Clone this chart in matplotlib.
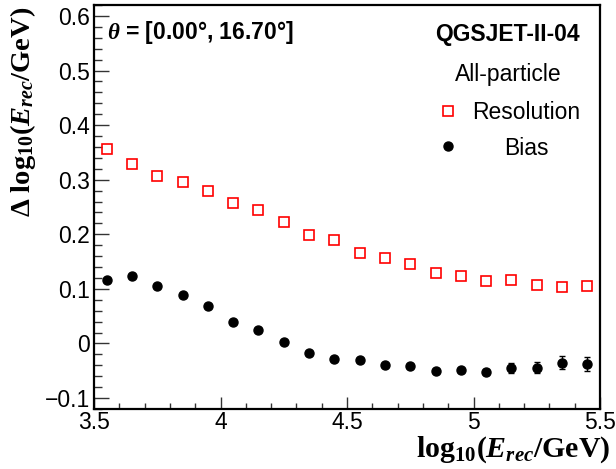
import matplotlib
matplotlib.use("Agg")
import matplotlib.pyplot as plt
from matplotlib.ticker import MultipleLocator
from matplotlib.lines import Line2D

plt.rcParams['font.family'] = ['Liberation Sans', 'DejaVu Sans']
plt.rcParams['mathtext.fontset'] = 'custom'
plt.rcParams['mathtext.rm'] = 'Liberation Serif:bold'
plt.rcParams['mathtext.it'] = 'Liberation Serif:bold:italic'
plt.rcParams['mathtext.bf'] = 'Liberation Serif:bold'

# ---- data ----
log_e = [3.55, 3.65, 3.75, 3.85, 3.95, 4.05, 4.15, 4.25, 4.35, 4.45,
         4.55, 4.65, 4.75, 4.85, 4.95, 5.05, 5.15, 5.25, 5.35, 5.45]
resolution = [0.356, 0.328, 0.306, 0.295, 0.279, 0.258, 0.245, 0.222, 0.199, 0.189,
              0.166, 0.156, 0.145, 0.130, 0.124, 0.115, 0.116, 0.108, 0.104, 0.105]
bias = [0.117, 0.124, 0.106, 0.089, 0.068, 0.040, 0.025, 0.003, -0.018, -0.028,
        -0.031, -0.040, -0.042, -0.050, -0.048, -0.052, -0.045, -0.044, -0.035, -0.038]
bias_err = [0.002, 0.002, 0.002, 0.002, 0.002, 0.002, 0.002, 0.002, 0.002, 0.003,
            0.003, 0.003, 0.003, 0.004, 0.004, 0.005, 0.009, 0.010, 0.012, 0.013]

fig = plt.figure(figsize=(6.16, 4.69), dpi=100)
ax = fig.add_axes([94/616, 1-409/469, 506/616, 404/469])

ax.plot(log_e, resolution, linestyle='none', marker='s', markersize=7,
        markerfacecolor='none', markeredgecolor='#ff0000', markeredgewidth=1.2)
ax.errorbar(log_e, bias, yerr=bias_err, fmt='o', color='black', markersize=6.5,
            elinewidth=1.0, capsize=2, capthick=1.0)

ax.set_xlim(3.5, 5.5)
ax.set_ylim(-0.12, 0.62)
ax.xaxis.set_major_locator(MultipleLocator(0.5))
ax.xaxis.set_minor_locator(MultipleLocator(0.1))
ax.yaxis.set_major_locator(MultipleLocator(0.1))
ax.yaxis.set_minor_locator(MultipleLocator(0.02))
ax.set_xticks([3.5, 4, 4.5, 5, 5.5], ['3.5', '4', '4.5', '5', '5.5'])
ax.set_yticks([-0.1, 0, 0.1, 0.2, 0.3, 0.4, 0.5, 0.6],
              ['\u22120.1', '0', '0.1', '0.2', '0.3', '0.4', '0.5', '0.6'])
ax.tick_params(axis='both', which='both', direction='in', labelsize=16.5,
               top=False, right=False, width=1.0, color='#333333')
ax.tick_params(axis='x', which='major', length=9, pad=1.5)
ax.tick_params(axis='x', which='minor', length=4.5)
ax.tick_params(axis='y', which='major', length=11, pad=3)
ax.tick_params(axis='y', which='minor', length=5.5)
for s in ax.spines.values():
    s.set_linewidth(1.6)

ax.set_xlabel(r'log$_{\mathrm{10}}$($E_{rec}$/GeV)', fontsize=21.5,
              family='Liberation Serif', fontweight='bold', ha='right', va='top')
ax.xaxis.set_label_coords(1.02, -0.062)
ax.set_ylabel('\u0394 ' + r'log$_{\mathrm{10}}$($E_{rec}$/GeV)', fontsize=20.5,
              family='Liberation Serif', fontweight='bold', ha='right', va='center')
ax.yaxis.set_label_coords(-0.140, 0.996)

ax.text(0.026, 0.931, r'$\theta$ = [0.00°, 16.70°]', transform=ax.transAxes,
        fontsize=16.5, fontweight='bold', ha='left', va='center')
ax.text(0.960, 0.928, 'QGSJET-II-04', transform=ax.transAxes,
        fontsize=16.5, fontweight='bold', ha='right', va='center')
ax.text(0.818, 0.827, 'All-particle', transform=ax.transAxes,
        fontsize=16.5, ha='center', va='center')

h_res = Line2D([], [], linestyle='none', marker='s', markersize=7,
               markerfacecolor='none', markeredgecolor='#ff0000', markeredgewidth=1.2)
h_bias = Line2D([], [], linestyle='none', marker='o', markersize=6.5, color='black')
leg1 = ax.legend([h_res], ['Resolution'], loc='center left', bbox_to_anchor=(0.677, 0.735),
                 frameon=False, fontsize=16.5, handlelength=1.0, handletextpad=0.54,
                 borderpad=0, borderaxespad=0)
ax.add_artist(leg1)
ax.legend([h_bias], ['Bias'], loc='center left', bbox_to_anchor=(0.677, 0.646),
          frameon=False, fontsize=16.5, handlelength=1.0, handletextpad=1.93,
          borderpad=0, borderaxespad=0)

fig.savefig('out.png', dpi=100)
